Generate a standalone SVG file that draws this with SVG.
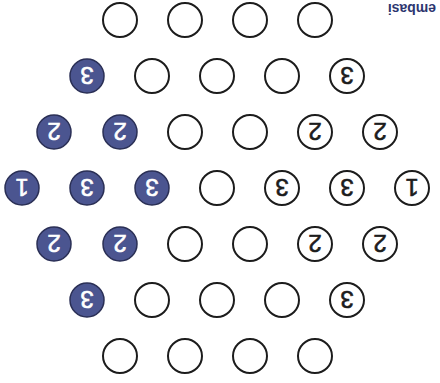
<svg xmlns="http://www.w3.org/2000/svg" width="440" height="383" viewBox="0 0 440 383">
<style>
.e{fill:#fff;stroke:#1c1c1c;stroke-width:2}
.f{fill:#4b5590;stroke:#2a2f55;stroke-width:1.5}
.n{font-family:"Liberation Sans",Arial,sans-serif;font-size:24px;text-anchor:middle}
.w{fill:#fff;stroke:#fff;stroke-width:0.6}
.k{fill:#1c1c1c;stroke:#1c1c1c;stroke-width:0.6}
.t{font-family:"Liberation Sans",Arial,sans-serif;font-size:14px;font-weight:bold;fill:#2d3670}
</style>
<rect width="440" height="383" fill="#fff"/>
<text class="t" transform="translate(436,3.5) rotate(180)">embasi</text>
<g id="r1">
<g id="n1_1"><circle class="e" cx="120" cy="20" r="17"/></g>
<g id="n1_2"><circle class="e" cx="185" cy="20" r="17"/></g>
<g id="n1_3"><circle class="e" cx="250" cy="20" r="17"/></g>
<g id="n1_4"><circle class="e" cx="315" cy="20" r="17"/></g>
</g>
<g id="r2">
<g id="n2_1"><circle class="f" cx="87" cy="76" r="17"/><text class="n w" x="87" y="84.6" transform="rotate(180 87 76)">3</text></g>
<g id="n2_2"><circle class="e" cx="152" cy="76" r="17"/></g>
<g id="n2_3"><circle class="e" cx="217" cy="76" r="17"/></g>
<g id="n2_4"><circle class="e" cx="282" cy="76" r="17"/></g>
<g id="n2_5"><circle class="e" cx="347" cy="76" r="17"/><text class="n k" x="347" y="84.6" transform="rotate(180 347 76)">3</text></g>
</g>
<g id="r3">
<g id="n3_1"><circle class="f" cx="54" cy="132" r="17"/><text class="n w" x="54" y="140.6" transform="rotate(180 54 132)">2</text></g>
<g id="n3_2"><circle class="f" cx="120" cy="132" r="17"/><text class="n w" x="120" y="140.6" transform="rotate(180 120 132)">2</text></g>
<g id="n3_3"><circle class="e" cx="185" cy="132" r="17"/></g>
<g id="n3_4"><circle class="e" cx="250" cy="132" r="17"/></g>
<g id="n3_5"><circle class="e" cx="315" cy="132" r="17"/><text class="n k" x="315" y="140.6" transform="rotate(180 315 132)">2</text></g>
<g id="n3_6"><circle class="e" cx="380" cy="132" r="17"/><text class="n k" x="380" y="140.6" transform="rotate(180 380 132)">2</text></g>
</g>
<g id="r4">
<g id="n4_1"><circle class="f" cx="22" cy="188" r="17"/><text class="n w" x="22" y="196.6" transform="rotate(180 22 188)">1</text></g>
<g id="n4_2"><circle class="f" cx="87" cy="188" r="17"/><text class="n w" x="87" y="196.6" transform="rotate(180 87 188)">3</text></g>
<g id="n4_3"><circle class="f" cx="152" cy="188" r="17"/><text class="n w" x="152" y="196.6" transform="rotate(180 152 188)">3</text></g>
<g id="n4_4"><circle class="e" cx="217" cy="188" r="17"/></g>
<g id="n4_5"><circle class="e" cx="282" cy="188" r="17"/><text class="n k" x="282" y="196.6" transform="rotate(180 282 188)">3</text></g>
<g id="n4_6"><circle class="e" cx="347" cy="188" r="17"/><text class="n k" x="347" y="196.6" transform="rotate(180 347 188)">3</text></g>
<g id="n4_7"><circle class="e" cx="412" cy="188" r="17"/><text class="n k" x="412" y="196.6" transform="rotate(180 412 188)">1</text></g>
</g>
<g id="r5">
<g id="n5_1"><circle class="f" cx="54" cy="244" r="17"/><text class="n w" x="54" y="252.6" transform="rotate(180 54 244)">2</text></g>
<g id="n5_2"><circle class="f" cx="120" cy="244" r="17"/><text class="n w" x="120" y="252.6" transform="rotate(180 120 244)">2</text></g>
<g id="n5_3"><circle class="e" cx="185" cy="244" r="17"/></g>
<g id="n5_4"><circle class="e" cx="250" cy="244" r="17"/></g>
<g id="n5_5"><circle class="e" cx="315" cy="244" r="17"/><text class="n k" x="315" y="252.6" transform="rotate(180 315 244)">2</text></g>
<g id="n5_6"><circle class="e" cx="380" cy="244" r="17"/><text class="n k" x="380" y="252.6" transform="rotate(180 380 244)">2</text></g>
</g>
<g id="r6">
<g id="n6_1"><circle class="f" cx="87" cy="300" r="17"/><text class="n w" x="87" y="308.6" transform="rotate(180 87 300)">3</text></g>
<g id="n6_2"><circle class="e" cx="152" cy="300" r="17"/></g>
<g id="n6_3"><circle class="e" cx="217" cy="300" r="17"/></g>
<g id="n6_4"><circle class="e" cx="282" cy="300" r="17"/></g>
<g id="n6_5"><circle class="e" cx="347" cy="300" r="17"/><text class="n k" x="347" y="308.6" transform="rotate(180 347 300)">3</text></g>
</g>
<g id="r7">
<g id="n7_1"><circle class="e" cx="120" cy="356" r="17"/></g>
<g id="n7_2"><circle class="e" cx="185" cy="356" r="17"/></g>
<g id="n7_3"><circle class="e" cx="250" cy="356" r="17"/></g>
<g id="n7_4"><circle class="e" cx="315" cy="356" r="17"/></g>
</g>
<g id="connectors"></g>
</svg>
